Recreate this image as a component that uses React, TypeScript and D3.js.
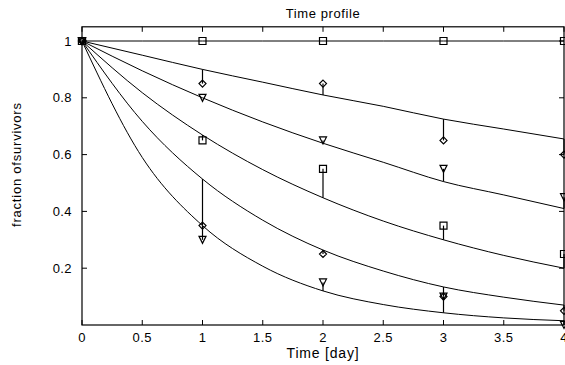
import { useEffect, useRef } from 'react';
import * as d3 from 'd3';

// model curve sample times and values
const curveTimes = [0, 0.5, 1, 1.5, 2, 2.5, 3, 3.5, 4];
const curveFlat = [1, 1, 1, 1, 1, 1, 1, 1, 1];
const curveA = [1, 0.95, 0.9, 0.855, 0.81, 0.77, 0.725, 0.69, 0.655];
const curveB = [1, 0.895, 0.8, 0.715, 0.64, 0.573, 0.505, 0.458, 0.41];
const curveC = [1, 0.818, 0.669, 0.547, 0.448, 0.366, 0.3, 0.245, 0.2];
const curveD = [1, 0.717, 0.514, 0.369, 0.264, 0.19, 0.134, 0.098, 0.07];
const curveE = [1, 0.59, 0.35, 0.207, 0.12, 0.072, 0.043, 0.025, 0.015];

// measured points (days 0..4)
const dataDays = [0, 1, 2, 3, 4];
const dataFlat = [1, 1, 1, 1, 1];
const dataA = [1, 0.85, 0.85, 0.65, 0.6];
const dataB = [1, 0.8, 0.65, 0.55, 0.45];
const dataC = [1, 0.65, 0.55, 0.35, 0.25];
const dataD = [1, 0.35, 0.25, 0.1, 0.05];
const dataE = [1, 0.3, 0.15, 0.1, 0.0];

const xTicks = [0, 0.5, 1, 1.5, 2, 2.5, 3, 3.5, 4];
const yTicks = [0.2, 0.4, 0.6, 0.8, 1];

type Marker = 'square' | 'diamond' | 'triangle';

const series: { curve: number[]; data: number[]; marker: Marker }[] = [
  { curve: curveFlat, data: dataFlat, marker: 'square' },
  { curve: curveA, data: dataA, marker: 'diamond' },
  { curve: curveB, data: dataB, marker: 'triangle' },
  { curve: curveC, data: dataC, marker: 'square' },
  { curve: curveD, data: dataD, marker: 'diamond' },
  { curve: curveE, data: dataE, marker: 'triangle' },
];

function markerPath(m: Marker, cx: number, cy: number) {
  const r = 3.5;
  if (m === 'square') return `M${cx - r},${cy - r}h${2 * r}v${2 * r}h${-2 * r}Z`;
  if (m === 'diamond') return `M${cx},${cy - r}L${cx + r},${cy}L${cx},${cy + r}L${cx - r},${cy}Z`;
  return `M${cx - r},${cy - r}L${cx + r},${cy - r}L${cx},${cy + r}Z`;
}

export default function App() {
  const svgRef = useRef<SVGSVGElement>(null);

  useEffect(() => {
    document.body.style.margin = '0';
    const svg = d3.select(svgRef.current);
    svg.selectAll('*').remove();

    const left = 82;
    const right = 564;
    const bottom = 325;
    const x = d3.scaleLinear().domain([0, 4]).range([left, right]);
    const y = d3.scaleLinear().domain([0, 1.05]).range([bottom, 325 - 1.05 * 284]);
    const top = y(1.05);
    const font = 'Arial, "Liberation Sans", sans-serif';

    const g = svg.append('g');

    // model curves
    const line = d3
      .line<number>()
      .x((_, i) => x(curveTimes[i]))
      .y((d) => y(d))
      .curve(d3.curveMonotoneX);

    series.forEach((s) => {
      g.append('path')
        .attr('d', line(s.curve))
        .attr('fill', 'none')
        .attr('stroke', '#000')
        .attr('stroke-width', 1);
    });

    // residual stems and markers
    series.forEach((s) => {
      s.data.forEach((v, i) => {
        const t = dataDays[i];
        const ci = curveTimes.indexOf(t);
        const cv = s.curve[ci];
        if (Math.abs(cv - v) > 0.005) {
          g.append('line')
            .attr('x1', x(t))
            .attr('x2', x(t))
            .attr('y1', y(cv))
            .attr('y2', y(v))
            .attr('stroke', '#000')
            .attr('stroke-width', 1.2);
        }
        g.append('path')
          .attr('d', markerPath(s.marker, x(t), y(v)))
          .attr('fill', 'none')
          .attr('stroke', '#000')
          .attr('stroke-width', 1.2);
      });
    });

    // frame
    g.append('rect')
      .attr('x', left)
      .attr('y', top)
      .attr('width', right - left)
      .attr('height', bottom - top)
      .attr('fill', 'none')
      .attr('stroke', '#000')
      .attr('stroke-width', 1.2);

    // inward ticks on all four sides
    const tl = 5;
    xTicks.forEach((t) => {
      g.append('line').attr('x1', x(t)).attr('x2', x(t)).attr('y1', bottom).attr('y2', bottom - tl).attr('stroke', '#000');
      g.append('line').attr('x1', x(t)).attr('x2', x(t)).attr('y1', top).attr('y2', top + tl).attr('stroke', '#000');
      g.append('text')
        .attr('x', x(t))
        .attr('y', bottom + 17)
        .attr('text-anchor', 'middle')
        .attr('font-family', font)
        .attr('font-size', 13)
        .attr('letter-spacing', 0.4)
        .text(d3.format('~g')(t));
    });
    yTicks.forEach((t) => {
      g.append('line').attr('x1', left).attr('x2', left + tl).attr('y1', y(t)).attr('y2', y(t)).attr('stroke', '#000');
      g.append('line').attr('x1', right).attr('x2', right - tl).attr('y1', y(t)).attr('y2', y(t)).attr('stroke', '#000');
      g.append('text')
        .attr('x', left - 10)
        .attr('y', y(t) + 4.5)
        .attr('text-anchor', 'end')
        .attr('font-family', font)
        .attr('font-size', 13)
        .attr('letter-spacing', 0.4)
        .text(d3.format('~g')(t));
    });

    g.append('text')
      .attr('x', (left + right) / 2)
      .attr('y', 18)
      .attr('text-anchor', 'middle')
      .attr('font-family', font)
      .attr('font-size', 13)
      .attr('letter-spacing', 0.6)
      .text('Time profile');

    g.append('text')
      .attr('x', (left + right) / 2)
      .attr('y', 358)
      .attr('text-anchor', 'middle')
      .attr('font-family', font)
      .attr('font-size', 14)
      .attr('letter-spacing', 0.8)
      .text('Time [day]');

    g.append('text')
      .attr('transform', `translate(21,165) rotate(-90)`)
      .attr('text-anchor', 'middle')
      .attr('font-family', font)
      .attr('font-size', 13)
      .attr('textLength', 124)
      .attr('lengthAdjust', 'spacing')
      .text('fraction ofsurvivors');
  }, []);

  return <svg ref={svgRef} width={565} height={365} style={{ display: 'block', background: '#fff' }}></svg>;
}
